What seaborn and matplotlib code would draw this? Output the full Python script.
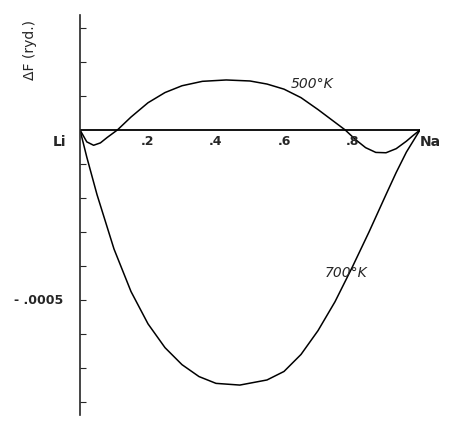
import matplotlib
matplotlib.use("Agg")
import matplotlib.pyplot as plt
import seaborn as sns
import pandas as pd

x500 = [0, 0.02, 0.04, 0.06, 0.08, 0.11, 0.15, 0.2, 0.25, 0.3, 0.36, 0.43, 0.5, 0.55, 0.6, 0.65, 0.7, 0.74, 0.78, 0.81, 0.84, 0.87, 0.9, 0.93, 0.96, 0.98, 1.0]
y500 = [0, -3.5e-5, -4.5e-5, -3.8e-5, -2.2e-5, 0, 3.8e-5, 8e-5, 1.1e-4, 1.3e-4, 1.43e-4, 1.47e-4, 1.44e-4, 1.35e-4, 1.2e-4, 9.5e-5, 6e-5, 3e-5, 0, -2.8e-5, -5.2e-5, -6.6e-5, -6.7e-5, -5.5e-5, -3.3e-5, -1.6e-5, 0]
x700 = [0, 0.02, 0.05, 0.1, 0.15, 0.2, 0.25, 0.3, 0.35, 0.4, 0.47, 0.55, 0.6, 0.65, 0.7, 0.75, 0.8, 0.85, 0.9, 0.93, 0.96, 1.0]
y700 = [0, -8e-5, -1.9e-4, -3.5e-4, -4.75e-4, -5.7e-4, -6.4e-4, -6.9e-4, -7.25e-4, -7.45e-4, -7.5e-4, -7.35e-4, -7.1e-4, -6.6e-4, -5.9e-4, -5.05e-4, -4.05e-4, -3e-4, -1.9e-4, -1.25e-4, -6.5e-5, 0]
xticks = [0.2, 0.4, 0.6, 0.8]
xlabels = [".2", ".4", ".6", ".8"]

sns.set_style("white")
fig = plt.figure(figsize=(4.6, 4.29), dpi=100)
ax = fig.add_axes([80/460, 14/429, 340/460, 400/429])
d1 = pd.DataFrame({"x": x500, "y": y500})
d2 = pd.DataFrame({"x": x700, "y": y700})
sns.lineplot(data=d1, x="x", y="y", ax=ax, color="black", lw=1.1, sort=False)
sns.lineplot(data=d2, x="x", y="y", ax=ax, color="black", lw=1.1, sort=False)
ax.axhline(0, color="black", lw=1.3)
ax.set_xlim(0, 1)
ax.set_ylim(-8.38e-4, 3.38e-4)
for s in ["top", "right", "bottom"]:
    ax.spines[s].set_visible(False)
ax.spines["left"].set_linewidth(1.2)
ax.set_xticks([])
ax.set_yticks([-8e-4, -7e-4, -6e-4, -5e-4, -4e-4, -3e-4, -2e-4, -1e-4, 1e-4, 2e-4, 3e-4])
ax.set_yticklabels([])
ax.tick_params(axis="y", direction="in", length=4, left=True)
ax.set_xlabel(""); ax.set_ylabel("")
for xt, lb in zip(xticks, xlabels):
    ax.text(xt, -1.5e-5, lb, ha="center", va="top", fontsize=9, fontweight="bold")
ax.text(-0.04, -1.5e-5, "Li", ha="right", va="top", fontsize=10, fontweight="bold")
ax.text(1.0, -1.5e-5, "Na", ha="left", va="top", fontsize=10, fontweight="bold")
ax.text(-0.05, -5e-4, "- .0005", ha="right", va="center", fontsize=9, fontweight="bold")
ax.text(0.62, 1.35e-4, "500°K", ha="left", va="center", fontsize=10, fontstyle="italic")
ax.text(0.72, -4.2e-4, "700°K", ha="left", va="center", fontsize=10, fontstyle="italic")
fig.text(30/460, 1 - 50/429, "ΔF (ryd.)", rotation=90, ha="center", va="center", fontsize=10)
fig.savefig("out.png", dpi=100)
